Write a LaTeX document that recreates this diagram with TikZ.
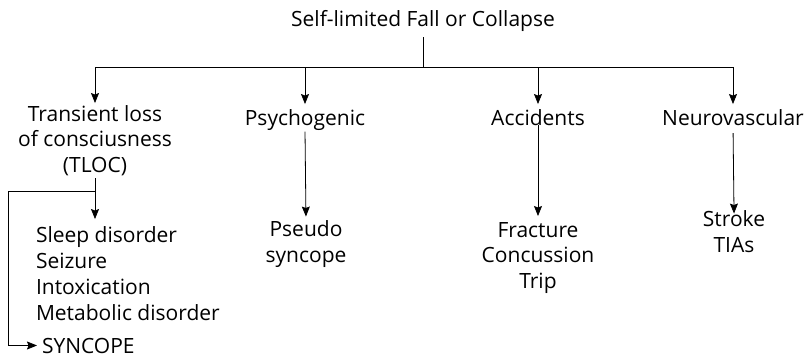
\documentclass[tikz,border=0pt]{standalone}
\usepackage{fontspec}
\setmainfont{Open Sans}
\usetikzlibrary{arrows.meta}
\begin{document}
\begin{tikzpicture}[x=1pt,y=-1pt,
  every node/.style={inner sep=0pt,outer sep=0pt,font=\fontsize{21}{25.5}\selectfont},
  lbl/.style={align=center,anchor=base},
  conn/.style={line width=0.8pt},
  arr/.style={conn,-{Stealth[length=10pt,width=8pt,inset=1.5pt]}}]
\useasboundingbox (0,0) rectangle (809,357);
\node[lbl] (title) at (423,26) {Self-limited Fall or Collapse};
\coordinate (bar) at (423,67);
\node[lbl] (tloc) at (95,172) {Transient loss\\of consciusness\\(TLOC)};
\node[lbl] (psy) at (305,125) {Psychogenic};
\node[lbl] (acc) at (538,125) {Accidents};
\node[lbl] (neu) at (733,125) {Neurovascular};
\node[lbl] (pseudo) at (306,262) {Pseudo\\syncope};
\node[lbl] (frac) at (538,288) {Fracture\\Concussion\\Trip};
\node[lbl] (stroke) at (734,252) {Stroke\\TIAs};
\node[align=left,anchor=base west,font=\fontsize{21}{26}\selectfont] (list) at (36,320) {Sleep disorder\\Seizure\\Intoxication\\Metabolic disorder};
\node[anchor=base west] (sync) at (42,353) {SYNCOPE};
% top tree
\draw[conn] (title.south |- 0,37) -- (bar);
\draw[conn] (tloc.north |- bar) -- (neu.north |- bar);
\draw[arr,shorten >=2pt] (tloc.north |- bar) -- (tloc.north);
\draw[arr,shorten >=5pt] (psy.north |- bar) -- (psy.north);
\draw[arr,shorten >=5pt] (acc.north |- bar) -- (acc.north);
\draw[arr,shorten >=5pt] (neu.north |- bar) -- (neu.north);
% children
\draw[arr,shorten <=1.5pt,shorten >=4pt] (psy.south) -- (pseudo.north);
\draw[arr,shorten <=0pt,shorten >=6pt] (acc.south) -- (frac.north);
\draw[arr,shorten <=8pt,shorten >=-3pt] (neu.south) -- (stroke.north);
% TLOC branch
\coordinate (split) at (95,191);
\coordinate (left) at (8,191);
\draw[arr,shorten <=3pt,shorten >=7pt] (tloc.south) -- (tloc.south |- list.north);
\draw[conn] (split) -- (left) -- (left |- sync.west) coordinate (lb);
\draw[arr,shorten >=5pt] (lb) -- (sync.west);
\end{tikzpicture}
\end{document}
